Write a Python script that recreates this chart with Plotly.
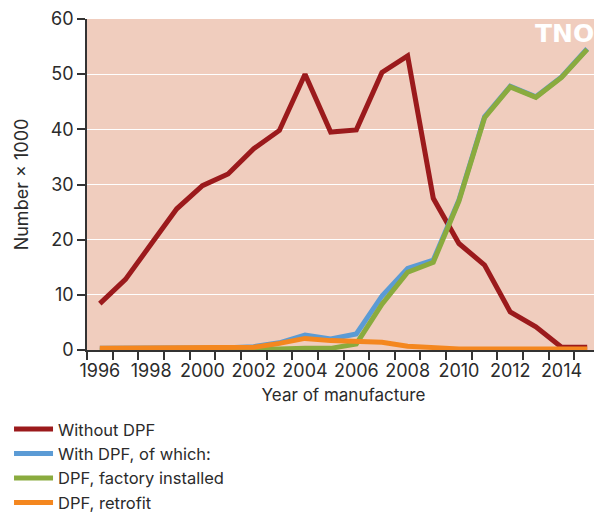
import plotly.graph_objects as go

years = list(range(1996, 2016))
without_dpf = [8.4, 12.8, 19.2, 25.6, 29.8, 31.9, 36.5, 39.8, 50.0, 39.5, 39.9, 50.3, 53.3, 27.5, 19.3, 15.4, 6.9, 4.2, 0.5, 0.5]
with_dpf = [0.3, 0.3, 0.3, 0.3, 0.4, 0.4, 0.6, 1.3, 2.7, 2.0, 2.9, 9.8, 14.8, 16.3, 27.2, 42.3, 47.8, 45.9, 49.5, 54.6]
factory = [0.0, 0.0, 0.0, 0.0, 0.0, 0.0, 0.1, 0.2, 0.3, 0.3, 1.1, 8.3, 14.1, 15.9, 27.0, 42.1, 47.7, 45.8, 49.4, 54.5]
retrofit = [0.3, 0.3, 0.3, 0.3, 0.4, 0.4, 0.5, 1.2, 2.1, 1.7, 1.6, 1.4, 0.7, 0.4, 0.2, 0.2, 0.2, 0.2, 0.2, 0.2]
label_years = list(range(1996, 2015, 2))

names = ["Without DPF", "With DPF, of which:", "DPF, factory installed", "DPF, retrofit"]
series = [without_dpf, with_dpf, factory, retrofit]
colors = ["#9b1a1c", "#5b9bd5", "#8aab3e", "#f4871f"]

FONT = "Inter"
TXT = "#2b2b2b"

fig = go.Figure()
for name, vals, col in zip(names, series, colors):
    fig.add_trace(go.Scatter(x=years, y=vals, name=name, mode="lines",
                             line=dict(color=col, width=5)))

fig.update_layout(
    width=602, height=514,
    margin=dict(l=79, r=10, t=11, b=172, autoexpand=False),
    paper_bgcolor="white",
    plot_bgcolor="#f0cdbe",
    font=dict(family=FONT, size=16, color=TXT),
    showlegend=True,
    legend=dict(x=-0.152, xanchor="left", y=-0.187, yanchor="top",
                orientation="v", font=dict(size=16.5, color=TXT),
                itemwidth=39,
                bgcolor="rgba(0,0,0,0)", traceorder="normal"),
    xaxis=dict(
        automargin=False,
        range=[1995.5, 2015.5],
        tickmode="array", tickvals=label_years, ticktext=[str(y) for y in label_years],
        ticks="outside", ticklen=4, tickcolor="rgba(0,0,0,0)",
        tickfont=dict(size=18, color=TXT),
        showgrid=False, zeroline=False,
        showline=True, linecolor="#333", linewidth=1.5,
        minor=dict(tick0=1995.5, dtick=1, ticks="outside", ticklen=8,
                   tickcolor="#333", tickwidth=1.5, showgrid=False),
        title=dict(text="Year of manufacture", font=dict(size=17, color=TXT), standoff=9),
    ),
    yaxis=dict(
        automargin=False,
        range=[0, 60], dtick=10,
        ticks="outside", ticklen=8, tickcolor="#333", tickwidth=1.5,
        tickfont=dict(size=18, color=TXT),
        showgrid=True, gridcolor="white", gridwidth=1.2,
        zeroline=False, showline=True, linecolor="#333", linewidth=1.5,
        title=dict(text="Number × 1000", font=dict(size=18, color=TXT), standoff=17),
    ),
)

fig.add_annotation(xref="paper", yref="paper", x=0.992, y=1.005, xanchor="right", yanchor="top",
                   text="<b>TNO</b>", showarrow=False,
                   font=dict(family="DejaVu Sans", size=25, color="white"))

fig.write_html("out.html")
